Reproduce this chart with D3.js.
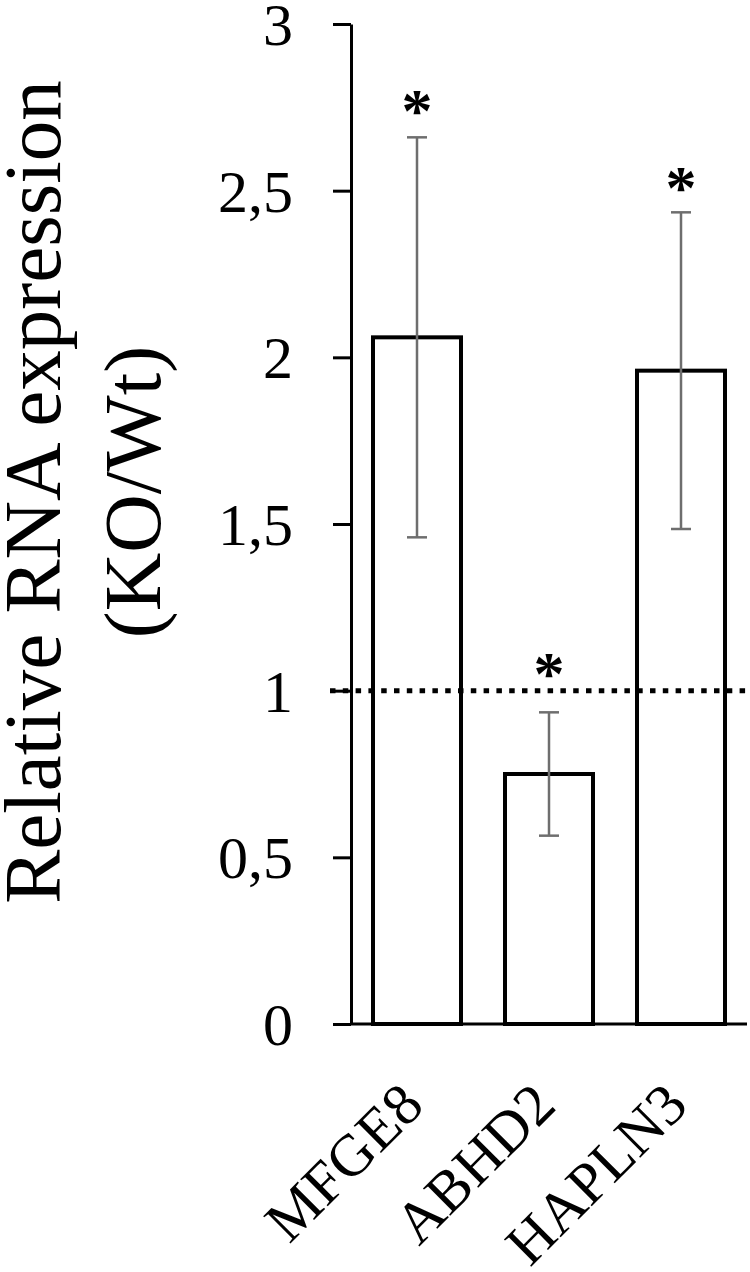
<!DOCTYPE html>
<html>
<head>
<meta charset="utf-8">
<script src="https://cdn.jsdelivr.net/npm/d3@7"></script>
<style>
  html, body { margin: 0; padding: 0; background: #fff; }
  svg { display: block; }
  text { font-family: "Liberation Serif", "Times New Roman", serif; }
</style>
</head>
<body>
<svg id="chart" width="750" height="1272"></svg>
<script>
// ---- data ----
const categories = ["MFGE8", "ABHD2", "HAPLN3"];
const values = [2.06, 0.75, 1.96];
const errors = [0.60, 0.185, 0.475];
const sigMarks = ["*", "*", "*"];
const sigLevels = [2.775, 1.086, 2.545];
const yTicks = [0, 0.5, 1, 1.5, 2, 2.5, 3];
const referenceLevel = [1];
const yTitleLines = ["Relative RNA expression", "(KO/Wt)"];

// ---- layout ----
const svg = d3.select("#chart");
const plotLeft = 351, plotRight = 747, plotTop = 24, plotBottom = 1024;

const y = d3.scaleLinear().domain([0, 3]).range([plotBottom, plotTop]);
const x = d3.scaleBand().domain(categories).range([plotLeft, plotRight]).paddingInner(1/3).paddingOuter(1/6);

// bars
svg.append("g").selectAll("rect").data(categories).join("rect")
  .attr("x", d => x(d))
  .attr("y", (d, i) => y(values[i]))
  .attr("width", x.bandwidth())
  .attr("height", (d, i) => y(0) - y(values[i]))
  .attr("fill", "#fff")
  .attr("stroke", "#000")
  .attr("stroke-width", 4);

// y axis
const yAxis = d3.axisLeft(y)
  .tickValues(yTicks)
  .tickSize(18)
  .tickSizeOuter(0)
  .tickPadding(40)
  .tickFormat(d => String(d).replace(".", ","));
const ya = svg.append("g").attr("transform", `translate(${plotLeft},0)`).call(yAxis);
ya.select(".domain").attr("stroke", "#000").attr("stroke-width", 3);
ya.selectAll(".tick line").attr("stroke", "#000").attr("stroke-width", 3);
ya.selectAll(".tick text")
  .attr("font-size", 60)
  .attr("font-family", "Liberation Serif, serif")
  .attr("fill", "#000")
  .attr("dy", "0.34em");

// x axis line
svg.append("line")
  .attr("x1", plotLeft).attr("x2", plotRight)
  .attr("y1", y(0)).attr("y2", y(0))
  .attr("stroke", "#000").attr("stroke-width", 3);

// error bars
const eb = svg.append("g").attr("stroke", "#6e6e6e").attr("stroke-width", 2.5);
categories.forEach((c, i) => {
  const cx = x(c) + x.bandwidth() / 2;
  const hi = y(values[i] + errors[i]), lo = y(values[i] - errors[i]);
  eb.append("line").attr("x1", cx).attr("x2", cx).attr("y1", hi).attr("y2", lo);
  eb.append("line").attr("x1", cx - 10).attr("x2", cx + 10).attr("y1", hi).attr("y2", hi);
  eb.append("line").attr("x1", cx - 10).attr("x2", cx + 10).attr("y1", lo).attr("y2", lo);
});

// reference dotted line
svg.selectAll(".ref").data(referenceLevel).join("line")
  .attr("class", "ref")
  .attr("x1", plotLeft - 21).attr("x2", plotRight)
  .attr("y1", d => y(d)).attr("y2", d => y(d))
  .attr("stroke", "#000").attr("stroke-width", 5)
  .attr("stroke-dasharray", "5.5,7.3");

// significance marks
svg.append("g").selectAll("text").data(categories).join("text")
  .attr("x", d => x(d) + x.bandwidth() / 2)
  .attr("y", (d, i) => y(sigLevels[i]))
  .attr("dy", "0.52em")
  .attr("text-anchor", "middle")
  .attr("font-family", "Liberation Sans, Arial, sans-serif")
  .attr("font-weight", "bold")
  .attr("font-size", 62)
  .text((d, i) => sigMarks[i]);

// x labels
svg.append("g").selectAll("text").data(categories).join("text")
  .attr("transform", d => `translate(${x(d) + x.bandwidth() / 2 + 9},${plotBottom + 84}) rotate(-45)`)
  .attr("text-anchor", "end")
  .attr("font-size", 59)
  .attr("fill", "#000")
  .text(d => d);

// y title
const yt = svg.append("text")
  .attr("transform", `translate(60,492) rotate(-90)`)
  .attr("text-anchor", "middle")
  .attr("font-size", 81)
  .attr("fill", "#000");
yt.selectAll("tspan").data(yTitleLines).join("tspan")
  .attr("x", 0)
  .attr("dy", (d, i) => i === 0 ? 0 : 100)
  .text(d => d);
</script>
</body>
</html>
